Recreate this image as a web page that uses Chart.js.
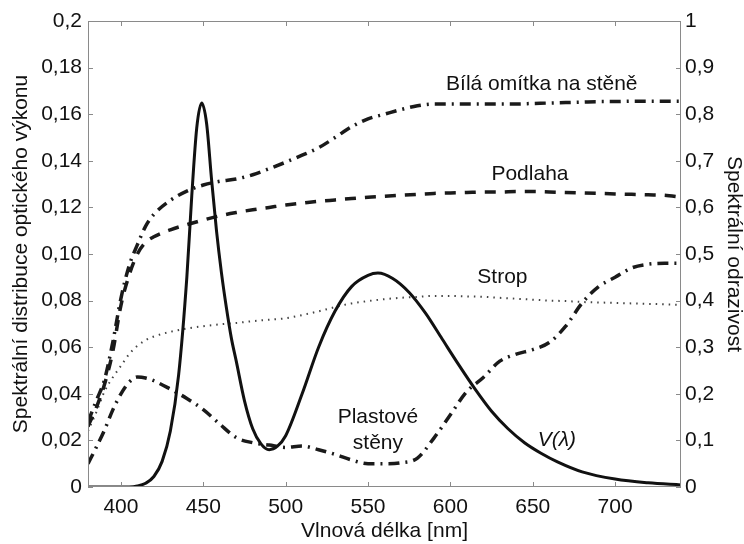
<!DOCTYPE html>
<html><head><meta charset="utf-8">
<script src="https://cdn.jsdelivr.net/npm/chart.js@4.4.1/dist/chart.umd.min.js"></script>
<style>html,body{margin:0;padding:0;background:#fff;}</style>
</head><body>
<canvas id="c" width="744" height="544"></canvas>
<script>
// ---- data ----
const wavelengthsSpd = [380,390,400,405,410,415,420,425,430,435,440,443,446,449,452,455,458,461,464,467,470,475,480,485,490,495,500,510,520,530,540,550,556,565,575,585,595,605,615,625,635,645,655,665,680,700,720,740];
const spd = [0,0,0,0,0.0004,0.0016,0.0045,0.011,0.024,0.048,0.09,0.125,0.154,0.1648,0.156,0.132,0.11,0.092,0.077,0.064,0.054,0.037,0.025,0.0185,0.016,0.0175,0.022,0.040,0.060,0.0755,0.086,0.0908,0.0918,0.0895,0.0835,0.0745,0.0635,0.0525,0.042,0.0325,0.025,0.019,0.0145,0.0108,0.0065,0.0034,0.0018,0.0009];

const wavelengthsRefl = [380,385,390,395,400,405,410,415,420,430,440,450,460,470,480,490,500,510,520,530,540,550,560,570,580,590,600,610,620,630,640,650,660,670,680,690,700,710,720,730,740];
const bilaOmitka = [0.14,0.185,0.23,0.31,0.405,0.475,0.52,0.56,0.585,0.615,0.635,0.648,0.656,0.661,0.67,0.683,0.697,0.712,0.728,0.75,0.773,0.79,0.80,0.81,0.818,0.822,0.822,0.822,0.822,0.822,0.822,0.823,0.824,0.825,0.826,0.827,0.827,0.828,0.828,0.828,0.828];
const podlaha = [0.13,0.17,0.22,0.29,0.39,0.455,0.50,0.525,0.537,0.552,0.563,0.573,0.582,0.589,0.595,0.60,0.605,0.609,0.613,0.616,0.619,0.622,0.624,0.626,0.628,0.63,0.631,0.632,0.633,0.633,0.634,0.634,0.633,0.632,0.631,0.63,0.629,0.628,0.627,0.626,0.622];
const strop = [0.12,0.16,0.205,0.235,0.26,0.285,0.303,0.315,0.323,0.333,0.34,0.345,0.349,0.352,0.356,0.359,0.362,0.369,0.377,0.386,0.394,0.399,0.403,0.406,0.408,0.41,0.41,0.409,0.408,0.406,0.404,0.402,0.40,0.399,0.397,0.396,0.395,0.394,0.393,0.392,0.391];
const plastoveSteny = [0.05,0.085,0.122,0.165,0.2,0.225,0.236,0.234,0.228,0.21,0.19,0.166,0.135,0.106,0.095,0.09,0.085,0.088,0.08,0.07,0.058,0.05,0.05,0.052,0.062,0.105,0.155,0.205,0.235,0.27,0.285,0.295,0.31,0.345,0.395,0.43,0.45,0.47,0.478,0.48,0.48];

const xTicks = [400,450,500,550,600,650,700];
const leftTicks = [0,0.02,0.04,0.06,0.08,0.10,0.12,0.14,0.16,0.18,0.2];
const leftTickLabels = ['0','0,02','0,04','0,06','0,08','0,10','0,12','0,14','0,16','0,18','0,2'];
const rightTicks = [0,0.1,0.2,0.3,0.4,0.5,0.6,0.7,0.8,0.9,1];
const rightTickLabels = ['0','0,1','0,2','0,3','0,4','0,5','0,6','0,7','0,8','0,9','1'];

// annotation texts (placed in data coordinates: wavelength, right-axis value)
const noteTexts = ['Bílá omítka na stěně','Podlaha','Strop','Plastové','stěny','V(λ)'];
const noteX = [655.5, 648.3, 631.6, 556, 556, 664.6];
const noteY = [0.853, 0.659, 0.438, 0.1367, 0.081, 0.087];
const noteItalic = [false,false,false,false,false,true];

// ---- chart ----
const FONT = '"Liberation Sans", Arial, sans-serif';
const TXT = '#111';
const pts = (xs, ys) => xs.map((w,i)=>({x:w,y:ys[i]}));

const frame = {
  id:'frame',
  afterDraw(chart){
    const {ctx, chartArea:a, scales} = chart;
    ctx.save();
    ctx.strokeStyle = '#8a8a8a';
    ctx.lineWidth = 1;
    ctx.strokeRect(a.left+0.5, a.top+0.5, a.right-a.left-1, a.bottom-a.top-1);
    const L = 5;
    ctx.beginPath();
    xTicks.forEach(v=>{
      const px = Math.round(scales.x.getPixelForValue(v))+0.5;
      ctx.moveTo(px,a.bottom); ctx.lineTo(px,a.bottom-L);
      ctx.moveTo(px,a.top); ctx.lineTo(px,a.top+L);
    });
    leftTicks.forEach(v=>{
      const py = Math.round(scales.y.getPixelForValue(v))+0.5;
      ctx.moveTo(a.left,py); ctx.lineTo(a.left+L,py);
    });
    rightTicks.forEach(v=>{
      const py = Math.round(scales.y1.getPixelForValue(v))+0.5;
      ctx.moveTo(a.right,py); ctx.lineTo(a.right-L,py);
    });
    ctx.stroke();
    ctx.restore();
  }
};

const notes = {
  id:'notes',
  afterDatasetsDraw(chart){
    const {ctx, scales} = chart;
    ctx.save();
    ctx.fillStyle = TXT;
    ctx.textAlign = 'center';
    ctx.textBaseline = 'alphabetic';
    noteTexts.forEach((t,i)=>{
      ctx.font = (noteItalic[i] ? 'italic ' : '') + '21px ' + FONT;
      ctx.fillText(t, scales.x.getPixelForValue(noteX[i]), scales.y1.getPixelForValue(noteY[i]));
    });
    ctx.restore();
  }
};

const dashDot = [11,6,2,6];

new Chart(document.getElementById('c'), {
  type:'line',
  data:{
    datasets:[
      {label:'V(λ)', data:pts(wavelengthsSpd, spd), yAxisID:'y', borderColor:'#111', borderWidth:3, pointRadius:0, cubicInterpolationMode:'monotone', fill:false},
      {label:'Bílá omítka na stěně', data:pts(wavelengthsRefl, bilaOmitka), yAxisID:'y1', borderColor:'#1a1a1a', borderWidth:3.5, borderDash:dashDot, pointRadius:0, cubicInterpolationMode:'monotone', fill:false},
      {label:'Podlaha', data:pts(wavelengthsRefl, podlaha), yAxisID:'y1', borderColor:'#1a1a1a', borderWidth:3.5, borderDash:[11,9], pointRadius:0, cubicInterpolationMode:'monotone', fill:false},
      {label:'Strop', data:pts(wavelengthsRefl, strop), yAxisID:'y1', borderColor:'#444', borderWidth:2, borderDash:[1.5,5], pointRadius:0, cubicInterpolationMode:'monotone', fill:false},
      {label:'Plastové stěny', data:pts(wavelengthsRefl, plastoveSteny), yAxisID:'y1', borderColor:'#1a1a1a', borderWidth:3.5, borderDash:dashDot, pointRadius:0, cubicInterpolationMode:'monotone', fill:false}
    ]
  },
  options:{
    responsive:false,
    animation:false,
    devicePixelRatio:1,
    layout:{padding:{top:21,left:0,right:0,bottom:0}},
    plugins:{legend:{display:false}, tooltip:{enabled:false}},
    scales:{
      x:{
        type:'linear', position:'bottom', min:380, max:740,
        grid:{display:false, drawTicks:false}, border:{display:false},
        afterBuildTicks:s=>{ s.ticks = xTicks.map(v=>({value:v})); },
        afterFit:s=>{ s.height = 57; },
        ticks:{font:{family:FONT,size:21}, color:TXT, padding:8, maxRotation:0, callback:v=>String(v)},
        title:{display:true, text:'Vlnová délka [nm]', color:TXT, font:{family:FONT,size:21,lineHeight:1}, padding:{top:0,bottom:2}}
      },
      y:{
        type:'linear', position:'left', min:0, max:0.2,
        grid:{display:false, drawTicks:false}, border:{display:false},
        afterBuildTicks:s=>{ s.ticks = leftTicks.map(v=>({value:v})); },
        afterFit:s=>{ s.width = 88; },
        ticks:{font:{family:FONT,size:21}, color:TXT, padding:6, callback:v=>leftTickLabels[leftTicks.indexOf(v)]},
        title:{display:true, text:'Spektrální distribuce optického výkonu', color:TXT, font:{family:FONT,size:21,lineHeight:1}, padding:{top:11,bottom:0}}
      },
      y1:{
        type:'linear', position:'right', min:0, max:1,
        grid:{display:false, drawTicks:false}, border:{display:false},
        afterBuildTicks:s=>{ s.ticks = rightTicks.map(v=>({value:v})); },
        afterFit:s=>{ s.width = 63; },
        ticks:{font:{family:FONT,size:21}, color:TXT, padding:4, callback:v=>rightTickLabels[rightTicks.indexOf(v)]},
        title:{display:true, text:'Spektrální odrazivost', color:TXT, font:{family:FONT,size:21,lineHeight:1}, padding:{top:0,bottom:0}}
      }
    }
  },
  plugins:[frame, notes]
});
</script>
</body></html>
